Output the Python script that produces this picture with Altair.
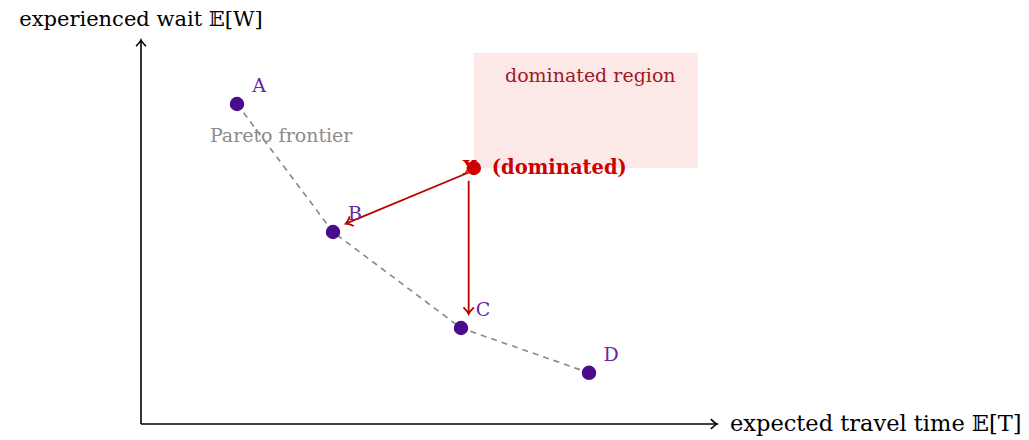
import altair as alt
import pandas as pd
import numpy as np

# ---- data ----
frontier_labels = ["A", "B", "C", "D"]
frontier_x = [1.5, 3.0, 5.0, 7.0]
frontier_y = [5.0, 3.0, 1.5, 0.8]

dom_label = "X"
dom_x = [5.2]
dom_y = [4.0]

region_x = [5.2, 8.7]
region_y = [4.0, 5.8]

axis_x_max = 9.0
axis_y_max = 6.0

# arrows: start x, start y, end x, end y
arrow_x1 = [5.12, 5.12]
arrow_y1 = [3.93, 3.80]
arrow_x2 = [3.20, 5.12]
arrow_y2 = [3.13, 1.72]

# ---- layout ----
W, H = 1013, 430
PX = 64.0
ox, oy = 133.0, 416.0
xdom = [-ox / PX, (W - ox) / PX]
ydom = [(oy - H) / PX, oy / PX]
xs = alt.Scale(domain=xdom, nice=False, zero=False)
ys = alt.Scale(domain=ydom, nice=False, zero=False)
SERIF = "DejaVu Serif"


def X(f="x"):
    return alt.X(f"{f}:Q", scale=xs, axis=None)


def Y(f="y"):
    return alt.Y(f"{f}:Q", scale=ys, axis=None)


frontier = pd.DataFrame({"label": frontier_labels, "x": frontier_x, "y": frontier_y})
dom = pd.DataFrame({"label": [dom_label], "x": dom_x, "y": dom_y})
region = pd.DataFrame({"x": [region_x[0]], "x2": [region_x[1]], "y": [region_y[0]], "y2": [region_y[1]]})
arrows = pd.DataFrame({"x": arrow_x1, "y": arrow_y1, "x2": arrow_x2, "y2": arrow_y2})
arrows["angle"] = (np.degrees(np.arctan2(-(arrows.y2 - arrows.y), arrows.x2 - arrows.x))) % 360

axes = pd.DataFrame({"x": [0.0, 0.0], "y": [0.0, 0.0], "x2": [axis_x_max, 0.0], "y2": [0.0, axis_y_max],
                     "angle": [0.0, 270.0]})

HEAD = "M-1,-0.8 Q-0.3,-0.12 0,0 Q-0.3,0.12 -1,0.8"

region_rect = alt.Chart(region).mark_rect(color="#fde8e8").encode(
    x=X(), x2="x2", y=Y(), y2="y2")

region_text = alt.Chart(pd.DataFrame({"x": [7.02], "y": [5.44], "t": ["dominated region"]})).mark_text(
    font=SERIF, fontSize=19, color="#a3161e").encode(x=X(), y=Y(), text="t:N")

axis_lines = alt.Chart(axes).mark_rule(color="black", strokeWidth=1.6).encode(
    x=X(), x2="x2", y=Y(), y2="y2")
axis_heads = alt.Chart(axes).mark_point(shape=HEAD, filled=False, color="black", strokeWidth=1.6,
                                        size=150, opacity=1).encode(
    x=X("x2"), y=Y("y2"), angle=alt.Angle("angle:Q", scale=None))

ylab = alt.Chart(pd.DataFrame({"x": [0.0], "y": [6.5], "t": ["experienced wait 𝔼[W]"]})).mark_text(
    font=SERIF, fontSize=21, color="black", align="center", baseline="top", dy=1).encode(
    x=X(), y=Y(), text="t:N")
xlab = alt.Chart(pd.DataFrame({"x": [axis_x_max], "y": [0.0], "t": ["expected travel time 𝔼[T]"]})).mark_text(
    font=SERIF, fontSize=22.5, color="black", align="left", baseline="middle", dx=13).encode(
    x=X(), y=Y(), text="t:N")

frontier_line = alt.Chart(frontier).mark_line(color="#888888", strokeWidth=1.6, strokeDash=[6, 5]).encode(
    x=X(), y=Y(), order="x:Q")

pareto_text = alt.Chart(pd.DataFrame({"x": [2.19], "y": [4.5], "t": ["Pareto frontier"]})).mark_text(
    font=SERIF, fontSize=19, color="#8c8c8c").encode(x=X(), y=Y(), text="t:N")

arrow_lines = alt.Chart(arrows).mark_rule(color="#b80000", strokeWidth=1.8).encode(
    x=X(), x2="x2", y=Y(), y2="y2")
arrow_heads = alt.Chart(arrows).mark_point(shape=HEAD, filled=False, color="#b80000", strokeWidth=1.8,
                                           size=170, opacity=1).encode(
    x=X("x2"), y=Y("y2"), angle=alt.Angle("angle:Q", scale=None))

pts = alt.Chart(frontier).mark_circle(color="#4b0c8c", size=210, opacity=1).encode(x=X(), y=Y())
pt_labels = alt.Chart(frontier).mark_text(font=SERIF, fontSize=19, color="#6a22a8", dx=22, dy=-18).encode(
    x=X(), y=Y(), text="label:N")

dom_lab = alt.Chart(dom).mark_text(font=SERIF, fontSize=19, fontWeight="bold", color="#cc0000", dx=-4).encode(
    x=X(), y=Y(), text="label:N")
dom_pt = alt.Chart(dom).mark_circle(color="#cc0000", size=210, opacity=1).encode(x=X(), y=Y())
dom_text = alt.Chart(dom.assign(t="(dominated)")).mark_text(
    font=SERIF, fontSize=19.5, fontWeight="bold", color="#cc0000", align="left", dx=18).encode(
    x=X(), y=Y(), text="t:N")

chart = alt.layer(
    region_rect, region_text, axis_lines, axis_heads, ylab, xlab,
    frontier_line, pareto_text, arrow_lines, arrow_heads,
    pts, pt_labels, dom_lab, dom_pt, dom_text,
).properties(
    width=W, height=H, padding=0, autosize=alt.AutoSizeParams(type="none")
).configure_view(stroke=None)

chart.save("out.html", embed_options={"renderer": "svg", "actions": False})
